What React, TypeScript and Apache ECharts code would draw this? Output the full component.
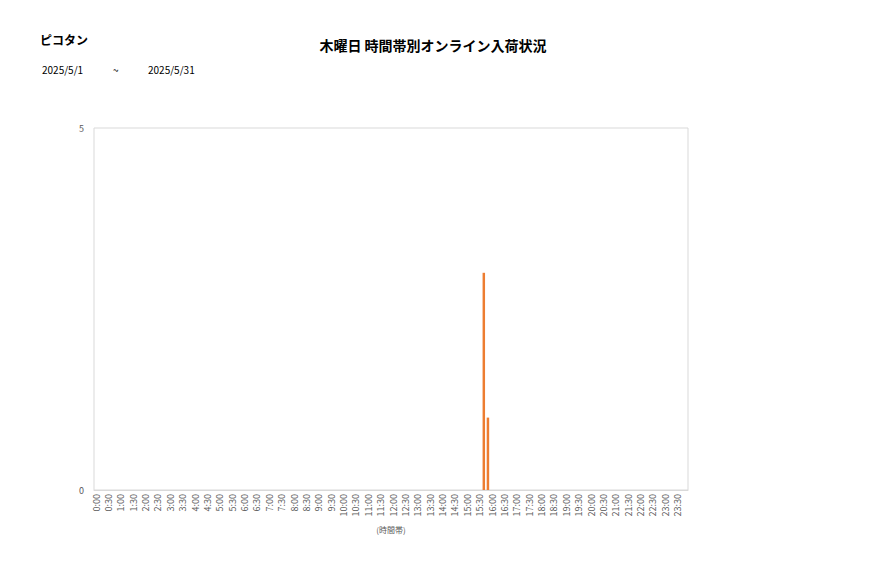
import { useEffect, useRef } from 'react';
import * as echarts from 'echarts';

const SHOP_NAME = 'ピコタン';
const CHART_TITLE = '木曜日 時間帯別オンライン入荷状況';
const PERIOD_FROM = '2025/5/1';
const PERIOD_TO = '2025/5/31';

// 10-minute slots, 0:00 .. 23:50
const HOURS = Array.from({ length: 24 }, (_, h) => h);
const MINUTES = ['00', '10', '20', '30', '40', '50'];
const timeSlots: string[] = HOURS.flatMap((h) => MINUTES.map((m) => `${h}:${m}`));

// only slots with arrivals; all others are 0
const arrivals: [string, number][] = [
  ['15:40', 3],
  ['15:50', 1],
];

const Y_MIN = 0;
const Y_MAX = 5;

const FONT = '"Noto Sans CJK JP", "Noto Sans", sans-serif';

export default function App() {
  const containerRef = useRef<HTMLDivElement>(null);

  useEffect(() => {
    if (!containerRef.current) return;
    const chart = echarts.init(containerRef.current, undefined, { renderer: 'svg' });

    const option: echarts.EChartsOption = {
      animation: false,
      backgroundColor: '#ffffff',
      textStyle: { fontFamily: FONT },
      title: {
        text: CHART_TITLE,
        left: 428,
        textAlign: 'center',
        top: 33,
        textStyle: { fontSize: 14, fontWeight: 'bold', color: '#000000', fontFamily: FONT },
      },
      graphic: [
        {
          type: 'text',
          left: 40,
          top: 33,
          style: { text: SHOP_NAME, fill: '#000000', font: `bold 12px ${FONT}` },
        },
        {
          type: 'text',
          left: 42,
          top: 64,
          style: { text: PERIOD_FROM, fill: '#000000', font: `10px ${FONT}` },
        },
        {
          type: 'text',
          left: 113,
          top: 64,
          style: { text: '~', fill: '#000000', font: `10px ${FONT}` },
        },
        {
          type: 'text',
          left: 148,
          top: 64,
          style: { text: PERIOD_TO, fill: '#000000', font: `10px ${FONT}` },
        },
      ],
      grid: {
        left: 94,
        right: 189,
        top: 128,
        bottom: 88,
        show: true,
        borderColor: '#d9d9d9',
        borderWidth: 1,
      },
      xAxis: {
        type: 'category',
        data: timeSlots,
        name: '(時間帯)',
        nameLocation: 'middle',
        nameGap: 35,
        nameTextStyle: { fontSize: 8, color: '#595959', fontFamily: FONT },
        axisLine: { lineStyle: { color: '#d9d9d9' } },
        axisTick: { show: false },
        axisLabel: {
          interval: 2,
          rotate: 90,
          fontSize: 9,
          color: '#595959',
          margin: 4,
          fontFamily: FONT,
        },
      },
      yAxis: {
        type: 'value',
        min: Y_MIN,
        max: Y_MAX,
        interval: 5,
        splitLine: { show: false },
        axisLine: { show: false },
        axisTick: { show: false },
        axisLabel: { fontSize: 9, color: '#595959', margin: 10, fontFamily: FONT },
      },
      series: [
        {
          type: 'bar',
          data: arrivals,
          barWidth: '60%',
          itemStyle: { color: '#ED7D31' },
        },
      ],
    };

    chart.setOption(option);
    return () => {
      chart.dispose();
    };
  }, []);

  return (
    <div
      ref={containerRef}
      style={{ position: 'absolute', left: 0, top: 0, width: 877, height: 578 }}
    />
  );
}
